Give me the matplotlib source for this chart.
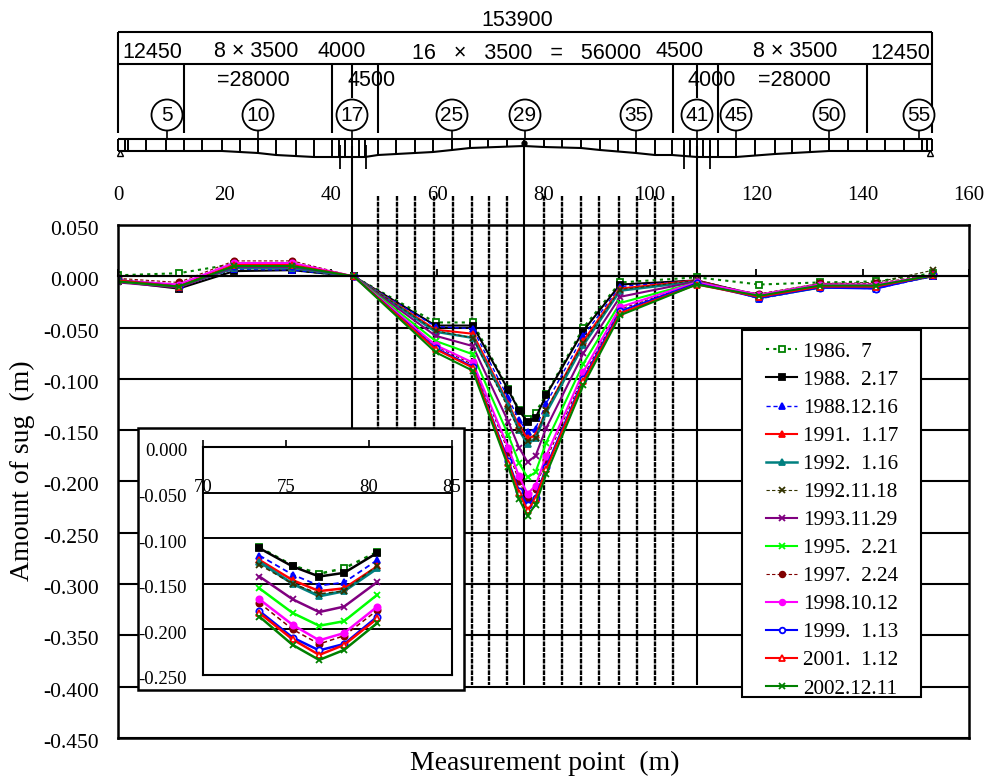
import matplotlib
matplotlib.use("Agg")
import matplotlib.pyplot as plt
from matplotlib.patches import Circle, Rectangle
from matplotlib.transforms import ScaledTranslation

W, H = 989, 779
SERIF = "Liberation Serif"
SANS = "Liberation Sans"

# ---------- data ----------
points_m = [0, 11.4, 21.8, 32.8, 44.3, 59.7, 66.7, 73.4, 75.4, 77, 78.5, 80.5,
            87.5, 94.4, 108.8, 120.6, 131.9, 142.5, 153.3]
s1986_07 = [0.001, 0.003, 0.012, 0.006, 0, -0.045, -0.045, -0.110, -0.130, -0.139, -0.133, -0.115,
            -0.050, -0.006, -0.001, -0.008, -0.006, -0.005, 0.003]
s1988_02 = [-0.005, -0.012, 0.005, 0.006, 0, -0.048, -0.048, -0.111, -0.131, -0.142, -0.138, -0.116,
            -0.053, -0.008, -0.004, -0.019, -0.009, -0.010, 0.000]
s1988_12 = [-0.004, -0.010, 0.007, 0.006, 0, -0.049, -0.051, -0.119, -0.140, -0.152, -0.1485, -0.124,
            -0.058, -0.010, -0.004, -0.022, -0.011, -0.012, 0.000]
s1991_01 = [-0.004, -0.010, 0.008, 0.008, 0, -0.052, -0.056, -0.124, -0.146, -0.158, -0.155, -0.131,
            -0.063, -0.012, -0.004, -0.020, -0.010, -0.010, 0.001]
s1992_01 = [-0.004, -0.010, 0.008, 0.008, 0, -0.054, -0.060, -0.126, -0.150, -0.1635, -0.158, -0.133,
            -0.067, -0.014, -0.005, -0.021, -0.011, -0.011, 0.001]
s1992_11 = [-0.003, -0.008, 0.010, 0.010, 0, -0.053, -0.060, -0.129, -0.150, -0.161, -0.158, -0.130,
            -0.065, -0.013, -0.004, -0.018, -0.007, -0.006, 0.006]
s1993_11 = [-0.006, -0.011, 0.009, 0.009, 0, -0.058, -0.068, -0.142, -0.167, -0.181, -0.175, -0.148,
            -0.075, -0.020, -0.005, -0.019, -0.009, -0.009, 0.001]
s1995_02 = [-0.005, -0.010, 0.010, 0.010, 0, -0.063, -0.076, -0.155, -0.182, -0.196, -0.191, -0.162,
            -0.085, -0.026, -0.006, -0.019, -0.009, -0.009, 0.001]
s1997_02 = [-0.002, -0.006, 0.015, 0.015, 0, -0.068, -0.086, -0.171, -0.200, -0.216, -0.207, -0.179,
            -0.097, -0.032, -0.007, -0.017, -0.007, -0.007, 0.002]
s1998_10 = [-0.004, -0.008, 0.013, 0.013, 0, -0.067, -0.084, -0.167, -0.195, -0.212, -0.204, -0.175,
            -0.093, -0.030, -0.006, -0.018, -0.008, -0.008, 0.001]
s1999_01 = [-0.004, -0.010, 0.010, 0.010, 0, -0.070, -0.088, -0.180, -0.209, -0.223, -0.216, -0.186,
            -0.100, -0.034, -0.007, -0.021, -0.011, -0.012, 0.001]
s2001_01 = [-0.004, -0.010, 0.011, 0.011, 0, -0.071, -0.089, -0.182, -0.211, -0.228, -0.217, -0.188,
            -0.102, -0.036, -0.008, -0.020, -0.010, -0.010, 0.001]
s2002_12 = [-0.005, -0.010, 0.010, 0.010, 0, -0.074, -0.092, -0.186, -0.217, -0.2335, -0.2225, -0.193,
            -0.106, -0.038, -0.008, -0.019, -0.009, -0.009, 0.001]

labels = ["1986.  7", "1988.  2.17", "1988.12.16", "1991.  1.17", "1992.  1.16", "1992.11.18",
          "1993.11.29", "1995.  2.21", "1997.  2.24", "1998.10.12", "1999.  1.13", "2001.  1.12",
          "2002.12.11"]
values = [s1986_07, s1988_02, s1988_12, s1991_01, s1992_01, s1992_11, s1993_11, s1995_02,
          s1997_02, s1998_10, s1999_01, s2001_01, s2002_12]
colors = ["#008000", "#000000", "#0000FF", "#FF0000", "#008080", "#333300", "#800080", "#00FF00",
          "#800000", "#FF00FF", "#0000FF", "#FF0000", "#008000"]
styles = [(0, (1.5, 2)), "-", (0, (3, 2)), "-", "-", (0, (3, 2)), "-", "-", (0, (3, 2)), "-", "-", "-", "-"]
widths = [1.5, 1.5, 1.0, 1.5, 1.8, 0.8, 1.5, 1.5, 0.8, 1.5, 1.5, 1.5, 1.5]
markers = ["s", "s", "^", "^", "^", "x", "x", "x", "o", "o", "o", "^", "x"]
filled = [False, True, True, True, True, False, False, False, True, True, False, False, False]

x_ticks = [0, 20, 40, 60, 80, 100, 120, 140, 160]
y_ticks = [0.05, 0, -0.05, -0.1, -0.15, -0.2, -0.25, -0.3, -0.35, -0.4, -0.45]
inset_x_ticks = [70, 75, 80, 85]
inset_y_ticks = [0, -0.05, -0.1, -0.15, -0.2, -0.25]
inset_slice = slice(7, 12)

# ---------- drawing geometry (pixels of the bridge sketch) ----------
measure_lines = [378, 397, 415, 434, 453, 472, 489, 507, 544, 562, 581, 599, 619, 637, 655, 673]
pier_main = [352, 524, 697]
dim_ticks_long = [184, 332, 378, 673, 718, 867]
dim_ticks_short = [352, 697]
span_verticals = [118, 125, 128, 146, 166, 184, 202, 222, 240, 258, 276, 296, 314, 332, 339, 345,
                  352, 359, 365, 378, 396, 415, 433, 452, 470, 488, 507, 524, 544, 562, 581, 600,
                  618, 636, 655, 672, 684, 690, 697, 703, 710, 718, 736, 755, 775, 792, 810, 829,
                  848, 867, 885, 904, 922, 927, 932]
soffit_x = [118, 222, 258, 276, 314, 340, 365, 378, 433, 452, 470, 524, 544, 581, 600, 636, 655,
            672, 697, 736, 775, 829, 932]
soffit_y = [151, 151, 153, 155, 157, 157, 157, 155, 152, 150, 148, 146, 147, 148, 150, 153, 155,
            155, 157, 157, 154, 151, 151]
bearing_x = [340, 366, 684, 710]
circle_x = [167, 258, 352, 452, 525, 636, 697, 736, 829, 919]
circle_t = ["5", "10", "17", "25", "29", "35", "41", "45", "50", "55"]
dim_text = [("153900", 517, 20), ("12450", 152, 52), ("8 × 3500", 256, 51), ("4000", 342, 51),
            ("16   ×   3500   =   56000", 527, 53), ("4500", 680, 51), ("8 × 3500", 795, 51),
            ("12450", 900, 53), ("=28000", 253, 80), ("4500", 372, 80), ("4000", 712, 80),
            ("=28000", 794, 80)]


def box(left, top, right, bottom):
    return [left / W, 1 - bottom / H, (right - left) / W, (bottom - top) / H]


fig = plt.figure(figsize=(W / 100, H / 100), dpi=100, facecolor="white")

# sketch layer
deco = fig.add_axes([0, 0, 1, 1], zorder=2)
deco.set_xlim(0, W)
deco.set_ylim(H, 0)
deco.axis("off")
deco.patch.set_alpha(0)
K = dict(color="black", solid_capstyle="butt")
deco.plot([118, 932], [32, 32], lw=1.5, **K)
deco.plot([118, 932], [64, 64], lw=1.5, **K)
deco.plot([118, 118], [32, 133], lw=1.5, **K)
deco.plot([932, 932], [32, 133], lw=1.5, **K)
for x in dim_ticks_long:
    deco.plot([x, x], [64, 133], lw=1.5, **K)
for x in dim_ticks_short:
    deco.plot([x, x], [64, 98], lw=1.5, **K)
for x, t in zip(circle_x, circle_t):
    deco.plot([x, x], [130, 139], lw=1.2, **K)
    deco.add_patch(Circle((x, 115), 15.5, fc="white", ec="black", lw=1.3, zorder=3))
    deco.text(x, 115.5, t, family=SANS, fontsize=15, ha="center", va="center", zorder=4)
for t, x, y in dim_text:
    deco.text(x, y, t, family=SANS, fontsize=15.5, ha="center", va="center", zorder=5)
deco.plot([118, 932], [139, 139], lw=1.5, **K)
deco.plot(soffit_x, soffit_y, lw=1.5, **K)
for x in span_verticals:
    yb = min((soffit_y[i] + (soffit_y[i + 1] - soffit_y[i]) * (x - soffit_x[i]) / (soffit_x[i + 1] - soffit_x[i]))
             for i in range(len(soffit_x) - 1) if soffit_x[i] <= x <= soffit_x[i + 1])
    deco.plot([x, x], [139, yb], lw=1.4, **K)
for x in bearing_x:
    deco.plot([x, x], [145, 169], lw=1.3, **K)
deco.plot([120], [153], marker="^", ms=4, mfc="white", mec="black")
deco.plot([930], [153], marker="^", ms=4, mfc="white", mec="black")
deco.plot([524], [143], marker="o", ms=3.5, color="black")
for x in pier_main:
    deco.plot([x, x], [146, 685], lw=1.5, **K)
for x in measure_lines:
    deco.plot([x, x], [196, 685], lw=1.7, color="black", linestyle=(0, (2.0, 0.45)))

# main chart
ax = fig.add_axes(box(118, 225, 969, 738), zorder=3)
ax.patch.set_alpha(0)
ax.set_xlim(0, 160)
ax.set_ylim(-0.45, 0.05)
ax.set_yticks(y_ticks)
ax.set_yticklabels([f"{v:.3f}" for v in y_ticks])
ax.set_xticks(x_ticks)
ax.set_xticklabels([str(v) for v in x_ticks])
ax.grid(axis="y", color="black", lw=1.5)
ax.axhline(0.05, color="black", lw=1.8, clip_on=False)
ax.spines["top"].set_position(("data", 0))
ax.spines["top"].set_linewidth(1.5)
for side in ("left", "right", "bottom"):
    ax.spines[side].set_linewidth(1.8)
ax.tick_params(axis="x", bottom=False, labelbottom=False, top=True, labeltop=True,
               direction="out", length=5, width=1.3, pad=46, labelsize=15, labelfontfamily=SERIF)
ax.tick_params(axis="y", length=0, pad=14, labelsize=15.5, labelfontfamily=SERIF)
down3 = ScaledTranslation(0, -3 / 100, fig.dpi_scale_trans)
for lab in ax.get_yticklabels():
    lab.set_transform(lab.get_transform() + down3)
for vals, lab, c, ls, lw, m, f in zip(values, labels, colors, styles, widths, markers, filled):
    ax.plot(points_m, vals, color=c, linestyle=ls, lw=lw, marker=m, ms=4.5,
            mfc=c if f else "white" if m != "x" else c, mec=c, mew=1.3, label=lab)
ax.set_xlabel("Measurement point  (m)", family=SERIF, fontsize=20)
ax.xaxis.set_label_coords((545 - 118) / 851, (738 - 763) / 513, transform=ax.transAxes)
ax.xaxis.label.set_va("center")
ax.set_ylabel("Amount of sug  (m)", family=SERIF, fontsize=20)
ax.yaxis.set_label_coords((22 - 118) / 851, (738 - 471) / 513, transform=ax.transAxes)
ax.yaxis.label.set_va("center")
ax.add_patch(Rectangle(((742 - 118) / 851, (738 - 697) / 513), (921 - 742) / 851, (697 - 330) / 513,
                       transform=ax.transAxes, fc="white", ec="black", lw=1.5, zorder=18, clip_on=False))
leg = ax.legend(loc="upper left", bbox_to_anchor=((766 - 118) / 851, (738 - 342) / 513),
                prop={"family": SERIF, "size": 15.3}, frameon=False, borderaxespad=0,
                handlelength=1.46, handletextpad=0.28, labelspacing=0.385, borderpad=0, markerscale=0.9)
leg.set_zorder(20)

# inset background panel
pan = fig.add_axes([0, 0, 1, 1], zorder=4)
pan.set_xlim(0, W)
pan.set_ylim(H, 0)
pan.axis("off")
pan.patch.set_alpha(0)
pan.add_patch(Rectangle((138, 428), 326, 262, fc="white", ec="black", lw=1.8))

# inset
ins = fig.add_axes(box(203, 447, 452, 675), zorder=5)
ins.patch.set_alpha(0)
ins.set_xlim(70, 85)
ins.set_ylim(-0.25, 0)
ins.set_yticks(inset_y_ticks)
ins.set_yticklabels([f"{v:.3f}" for v in inset_y_ticks])
ins.set_xticks(inset_x_ticks)
ins.set_xticklabels([str(v) for v in inset_x_ticks])
ins.grid(axis="y", color="black", lw=1.4)
for s in ins.spines.values():
    s.set_linewidth(1.5)
ins.tick_params(axis="x", bottom=False, labelbottom=False, top=True, labeltop=True,
                direction="out", length=5, width=1.2, pad=-40, labelsize=13.5, labelfontfamily=SERIF)
ins.tick_params(axis="y", length=0, pad=11.5, labelsize=13.5, labelfontfamily=SERIF)
for lab in ins.get_yticklabels():
    lab.set_transform(lab.get_transform() + down3)
for vals, c, ls, lw, m, f in zip(values, colors, styles, widths, markers, filled):
    ins.plot(points_m[inset_slice], vals[inset_slice], color=c, linestyle=ls, lw=lw + 0.3, marker=m, ms=4.5,
             mfc=c if f else "white" if m != "x" else c, mec=c, mew=1.3)

fig.savefig("out.png", dpi=100, facecolor="white")
